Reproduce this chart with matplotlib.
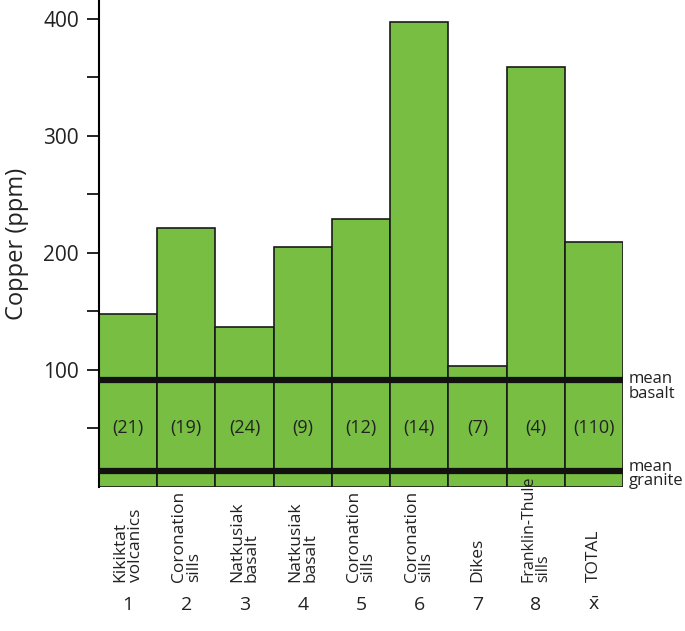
import matplotlib.pyplot as plt
import numpy as np

plt.rcParams['font.family'] = ['Open Sans', 'DejaVu Sans']

# data
units = ['Kikiktat\nvolcanics', 'Coronation\nsills', 'Natkusiak\nbasalt', 'Natkusiak\nbasalt',
         'Coronation\nsills', 'Coronation\nsills', 'Dikes', 'Franklin-Thule\nsills', 'TOTAL']
numbers = ['1', '2', '3', '4', '5', '6', '7', '8', r'$\mathregular{\bar{x}}$']
copper = [148, 221, 137, 205, 229, 397, 103, 359, 209]
counts = ['(21)', '(19)', '(24)', '(9)', '(12)', '(14)', '(7)', '(4)', '(110)']
mean_basalt = 91.5
mean_granite = 13.5

fig = plt.figure(figsize=(6.85, 6.31), dpi=100)
ax = fig.add_axes([99 / 685, 144 / 631, 524 / 685, 487 / 631])

x = np.arange(len(copper))
ax.bar(x, copper, width=1.0, color='#78BE43', edgecolor='#1a1a1a', linewidth=1.2, zorder=2)

ax.hlines([mean_basalt, mean_granite], -0.5, 8.5, colors='#111111', linewidth=4.5, zorder=3)

for xi, c in zip(x, counts):
    ax.text(xi, 50, c, ha='center', va='center', fontsize=13, color='#222222', zorder=4)

ax.text(8.6, 86, 'mean\nbasalt', ha='left', va='center', fontsize=12,
        linespacing=0.9, color='#222222', clip_on=False)
ax.text(8.6, 11, 'mean\ngranite', ha='left', va='center', fontsize=12,
        linespacing=0.8, color='#222222', clip_on=False)

tr = ax.get_xaxis_transform()
for xi, lab, num in zip(x, units, numbers):
    # the long Franklin-Thule label has to stay clear of the bars
    fs = 11.5 if lab.startswith('Franklin') else 12.5
    ax.text(xi, -0.195, lab, transform=tr, rotation=90, ha='center', va='bottom',
            multialignment='left', fontsize=fs, linespacing=0.9, color='#222222')
    ax.text(xi, -0.242, num, transform=tr, ha='center', va='center',
            fontsize=14, color='#222222')

ax.set_xlim(-0.5, 8.5)
ax.set_ylim(0, 416)
ax.set_yticks([100, 200, 300, 400])
ax.set_yticks([50, 150, 250, 350], minor=True)
ax.tick_params(axis='y', which='both', length=8.5, width=1.2, direction='out', pad=6)
ax.tick_params(axis='y', labelsize=15, labelcolor='#222222')
ax.set_xticks([])
ax.set_ylabel('Copper (ppm)', fontsize=17, color='#222222', labelpad=10)

for s in ['top', 'right', 'bottom']:
    ax.spines[s].set_visible(False)
ax.spines['left'].set_linewidth(1.5)
ax.patch.set_visible(False)

fig.savefig('out.png', dpi=100)
